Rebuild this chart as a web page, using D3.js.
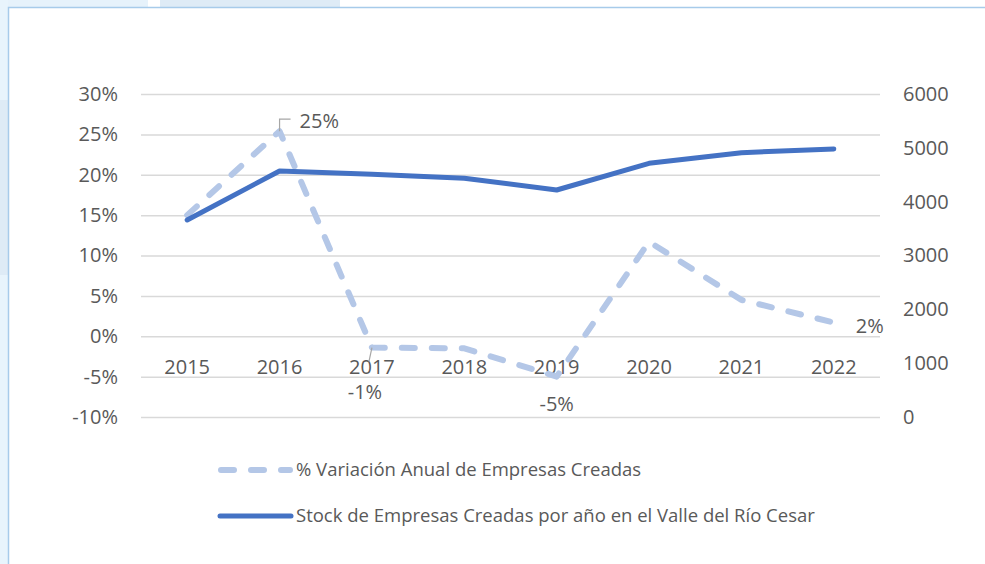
<!DOCTYPE html>
<html><head><meta charset="utf-8">
<script src="https://cdn.jsdelivr.net/npm/d3@7"></script>
<style>
html,body{margin:0;padding:0;background:#fff;}
svg{display:block;}
text{font-family:"Open Sans",sans-serif;fill:#595959;}
</style></head>
<body>
<svg id="c" width="985" height="564"></svg>
<script>
const years = ["2015","2016","2017","2018","2019","2020","2021","2022"];
const pctVariation = [0.150, 0.254, -0.014, -0.015, -0.050, 0.117, 0.045, 0.017];
const stockValues = [3660, 4570, 4510, 4434, 4217, 4713, 4910, 4979];
const leftTicks = [-0.10,-0.05,0,0.05,0.10,0.15,0.20,0.25,0.30];
const rightTicks = [0,1000,2000,3000,4000,5000,6000];
const seriesNames = ["% Variación Anual de Empresas Creadas","Stock de Empresas Creadas por año en el Valle del Río Cesar"];

const svg = d3.select("#c");
const pct = v => d3.format(".0%")(v).replace("\u2212","-");

// outer background pieces
svg.append("rect").attr("x",0).attr("y",0).attr("width",148).attr("height",7).attr("fill","#e6f2fb");
svg.append("rect").attr("x",160).attr("y",0).attr("width",180).attr("height",7).attr("fill","#deebf6");
svg.append("rect").attr("x",0).attr("y",0).attr("width",8).attr("height",564).attr("fill","#e8f4fc");
svg.append("rect").attr("x",0).attr("y",100).attr("width",8).attr("height",175).attr("fill","#deebf6");
svg.append("rect").attr("x",8.5).attr("y",7.5).attr("width",985).attr("height",600).attr("fill","#fff").attr("stroke","#a7cbea").attr("stroke-width",1.5);

const x = d3.scaleBand().domain(years).range([141,880]).padding(0);
const cx = d => x(d)+x.bandwidth()/2;
const yL = d3.scaleLinear().domain([-0.10,0.30]).range([417,94]);
const yR = d3.scaleLinear().domain([0,6000]).range([417,94]);

// gridlines
const gG = svg.append("g").attr("transform","translate(141,0)")
  .call(d3.axisLeft(yL).tickValues(leftTicks).tickSize(-(880-141)).tickFormat(""));
gG.select(".domain").remove();
gG.selectAll("line").attr("stroke","#d9d9d9").attr("stroke-width",1.5);

const FS = "20px";
// left axis labels
const aL = svg.append("g").attr("transform","translate(141,0)")
  .call(d3.axisLeft(yL).tickValues(leftTicks).tickSize(0).tickPadding(23).tickFormat(pct));
aL.select(".domain").remove();
aL.selectAll("text").style("font-size",FS).style("font-family","Open Sans").attr("fill","#595959");

// right axis labels
const aR = svg.append("g").attr("transform","translate(880,0)")
  .call(d3.axisRight(yR).tickValues(rightTicks).tickSize(0).tickPadding(23).tickFormat(d3.format("d")));
aR.select(".domain").remove();
aR.selectAll("text").style("font-size",FS).style("font-family","Open Sans").attr("fill","#595959");

// category labels
const aX = svg.append("g").attr("transform","translate(0,"+yL(0)+")")
  .call(d3.axisBottom(x).tickSize(0).tickPadding(31));
aX.select(".domain").remove();
aX.selectAll("text").style("font-size",FS).style("font-family","Open Sans").attr("fill","#595959").attr("dy","0.35em");

// lines
const linePct = d3.line().x((d,i)=>cx(years[i])).y(d=>yL(d));
const lineStock = d3.line().x((d,i)=>cx(years[i])).y(d=>yR(d));

svg.append("path").datum(pctVariation).attr("d",linePct).attr("fill","none")
  .attr("stroke","#b4c7e7").attr("stroke-width",6).attr("stroke-dasharray","13 17")
  .attr("stroke-linecap","round").attr("stroke-linejoin","round");
svg.append("path").datum(stockValues).attr("d",lineStock).attr("fill","none")
  .attr("stroke","#4472c4").attr("stroke-width",5)
  .attr("stroke-linecap","round").attr("stroke-linejoin","round");

// data labels
const lab = svg.append("g").style("font-size",FS);
{
  const i=1, px=cx(years[i]), py=yL(pctVariation[i]);
  svg.append("path").attr("d",`M${px},${py}V${py-12}H${px+11}`).attr("fill","none").attr("stroke","#a6a6a6").attr("stroke-width",1.2);
  lab.append("text").attr("x",px+20).attr("y",py-10).attr("dy","0.35em").text(pct(pctVariation[i]));
}
{
  const i=2, px=cx(years[i]), py=yL(pctVariation[i]);
  svg.append("path").attr("d",`M${px},${py}L${px-3},${py+14}`).attr("fill","none").attr("stroke","#a6a6a6").attr("stroke-width",1.2);
  lab.append("text").attr("x",px-7).attr("y",py+44).attr("dy","0.35em").attr("text-anchor","middle").text(pct(pctVariation[i]));
}
{
  const i=4, px=cx(years[i]), py=yL(pctVariation[i]);
  lab.append("text").attr("x",px).attr("y",py+27).attr("dy","0.35em").attr("text-anchor","middle").text(pct(pctVariation[i]));
}
{
  const i=7, px=cx(years[i]), py=yL(pctVariation[i]);
  lab.append("text").attr("x",px+22).attr("y",py+3).attr("dy","0.35em").text(pct(pctVariation[i]));
}

// legend
const lg = svg.append("g");
lg.append("line").attr("x1",221).attr("x2",290).attr("y1",470).attr("y2",470)
  .attr("stroke","#b4c7e7").attr("stroke-width",6).attr("stroke-dasharray","13 17").attr("stroke-linecap","round");
lg.append("line").attr("x1",220).attr("x2",291).attr("y1",516).attr("y2",516)
  .attr("stroke","#4472c4").attr("stroke-width",5).attr("stroke-linecap","round");
lg.append("text").attr("x",296).attr("y",470).attr("dy","0.35em").style("font-size","18.5px").text(seriesNames[0]);
lg.append("text").attr("x",296).attr("y",516).attr("dy","0.35em").style("font-size","18.5px").text(seriesNames[1]);
</script>
</body></html>
